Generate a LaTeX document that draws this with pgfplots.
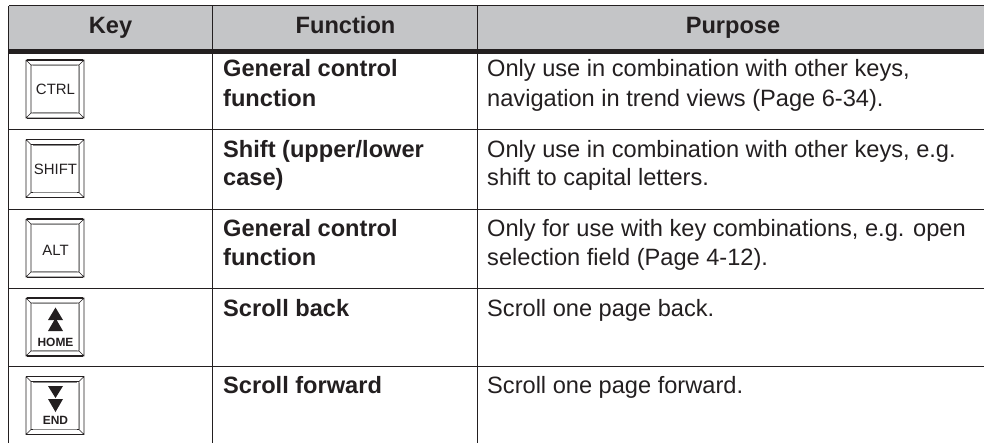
\documentclass[border=0pt]{standalone}
\usepackage{pgfplots}
\pgfplotsset{compat=1.18}
\usepackage{pgfplotstable}
\usepackage{fontspec}
\setmainfont{Liberation Sans}
\definecolor{hdr}{HTML}{C4C5C7}
\definecolor{ink}{HTML}{231F20}
\definecolor{kgray}{HTML}{8A8A8A}
% key geometry, y relative to the top edge of the key
\pgfplotstableread{
x y
26 0
84 0
84 58
26 58
26 0
nan nan
31 5
79 5
79 53
31 53
31 5
nan nan
26 0
31 5
nan nan
84 0
79 5
nan nan
26 58
31 53
nan nan
84 58
79 53
}\keygeom
\pgfplotstableread{
x y
27 0
83 0
}\keytop
\pgfplotstableread{
x y
27 58
83 58
}\keybot
\pgfplotstableread{
x y
33 5.5
77 5.5
nan nan
33 52.5
77 52.5
nan nan
79.7 6
79.7 52
}\keyin
\newcommand{\key}[3]{%
\addplot[ink,line width=0.55bp,unbounded coords=jump,forget plot] table[y expr=\thisrow{y}+#1]{\keygeom};
\addplot[kgray,line width=0.7bp,unbounded coords=jump,forget plot] table[y expr=\thisrow{y}+#1]{\keyin};
\addplot[ink,line width=#2bp,forget plot] table[y expr=\thisrow{y}+#1]{\keytop};
\addplot[ink,line width=#3bp,forget plot] table[y expr=\thisrow{y}+#1]{\keybot};
}
\newcommand{\bodyfont}{\fontsize{23.7}{23.7}\selectfont}
\newcommand{\T}[3]{\node[anchor=base west,inner sep=0pt,text=ink,font=\bodyfont] at (axis cs:#1,#2) {#3};}
\newcommand{\B}[3]{\node[anchor=base west,inner sep=0pt,text=ink,font=\bodyfont\bfseries] at (axis cs:#1,#2) {#3};}
\newcommand{\K}[4]{\node[anchor=base,inner sep=0pt,text=ink,font=\fontsize{#3}{#3}\selectfont#4] at (axis cs:55.5,#1) {#2};}
\begin{document}
\begin{tikzpicture}
\begin{axis}[
  at={(0,0)},anchor=south west,
  width=984bp,height=443bp,scale only axis,
  xmin=0,xmax=984,ymin=0,ymax=443,y dir=reverse,
  hide axis,clip=true]
% header band
\addplot[draw=none,fill=hdr,forget plot] coordinates {(9,6) (984,6) (984,50) (9,50)} -- cycle;
% rules
\addplot[ink,line width=1bp,forget plot] coordinates {(9,6) (984,6)};
\addplot[ink,line width=5bp,forget plot] coordinates {(8,52) (984,52)};
\addplot[ink,line width=1bp,forget plot] coordinates {(8,129.5) (984,129.5)};
\addplot[ink,line width=1bp,forget plot] coordinates {(8,209.5) (984,209.5)};
\addplot[ink,line width=1bp,forget plot] coordinates {(8,288) (984,288)};
\addplot[ink,line width=1bp,forget plot] coordinates {(8,366) (984,366)};
\addplot[ink,line width=1bp,forget plot] coordinates {(8.7,6) (8.7,443)};
\addplot[ink,line width=1bp,forget plot] coordinates {(212.7,6) (212.7,443)};
\addplot[ink,line width=1bp,forget plot] coordinates {(477.3,6) (477.3,443)};
% keys
\key{60}{1.5}{0.5}
\key{139.5}{1.6}{1.4}
\key{219}{1.5}{0.9}
\key{298}{1.6}{1.4}
\key{376.5}{1.0}{1.4}
% arrows
\addplot[fill=ink,draw=none,forget plot] coordinates {(55.5,307.5) (48,320) (63,320)} -- cycle;
\addplot[fill=ink,draw=none,forget plot] coordinates {(55.5,318) (48,331) (63,331)} -- cycle;
\addplot[fill=ink,draw=none,forget plot] coordinates {(55.5,398) (48,386) (63,386)} -- cycle;
\addplot[fill=ink,draw=none,forget plot] coordinates {(55.5,412) (48,399) (63,399)} -- cycle;
% key captions
\K{94}{CTRL}{15}{}
\K{174}{SHIFT}{15}{}
\K{255}{ALT}{15}{}
\K{346}{HOME}{12}{\bfseries}
\K{424}{END}{12}{\bfseries}
% header
\node[anchor=base,inner sep=0pt,text=ink,font=\bodyfont\bfseries] at (axis cs:110.5,34) {Key};
\node[anchor=base,inner sep=0pt,text=ink,font=\bodyfont\bfseries] at (axis cs:345.5,34) {Function};
\node[anchor=base,inner sep=0pt,text=ink,font=\bodyfont\bfseries] at (axis cs:733,34) {Purpose};
% function column
\B{223}{77}{General control}
\B{223}{106}{function}
\B{223}{157}{Shift (upper/lower}
\B{223}{185.5}{case)}
\B{223}{236.7}{General control}
\B{223}{265.7}{function}
\B{223}{316.7}{Scroll back}
\B{223}{393}{Scroll forward}
% purpose column
\T{487}{77}{Only use in combination with other keys,}
\T{487}{106}{navigation in trend views (Page 6-34).}
\T{487}{157}{Only use in combination with other keys, e.g.}
\T{487}{185.5}{shift to capital letters.}
\T{487}{236.7}{Only for use with key combinations, e.g. open}
\T{487}{265.7}{selection field (Page 4-12).}
\T{487}{316.7}{Scroll one page back.}
\T{487}{393}{Scroll one page forward.}
\end{axis}
\useasboundingbox (0,0) rectangle (984bp,443bp);
\end{tikzpicture}
\end{document}
